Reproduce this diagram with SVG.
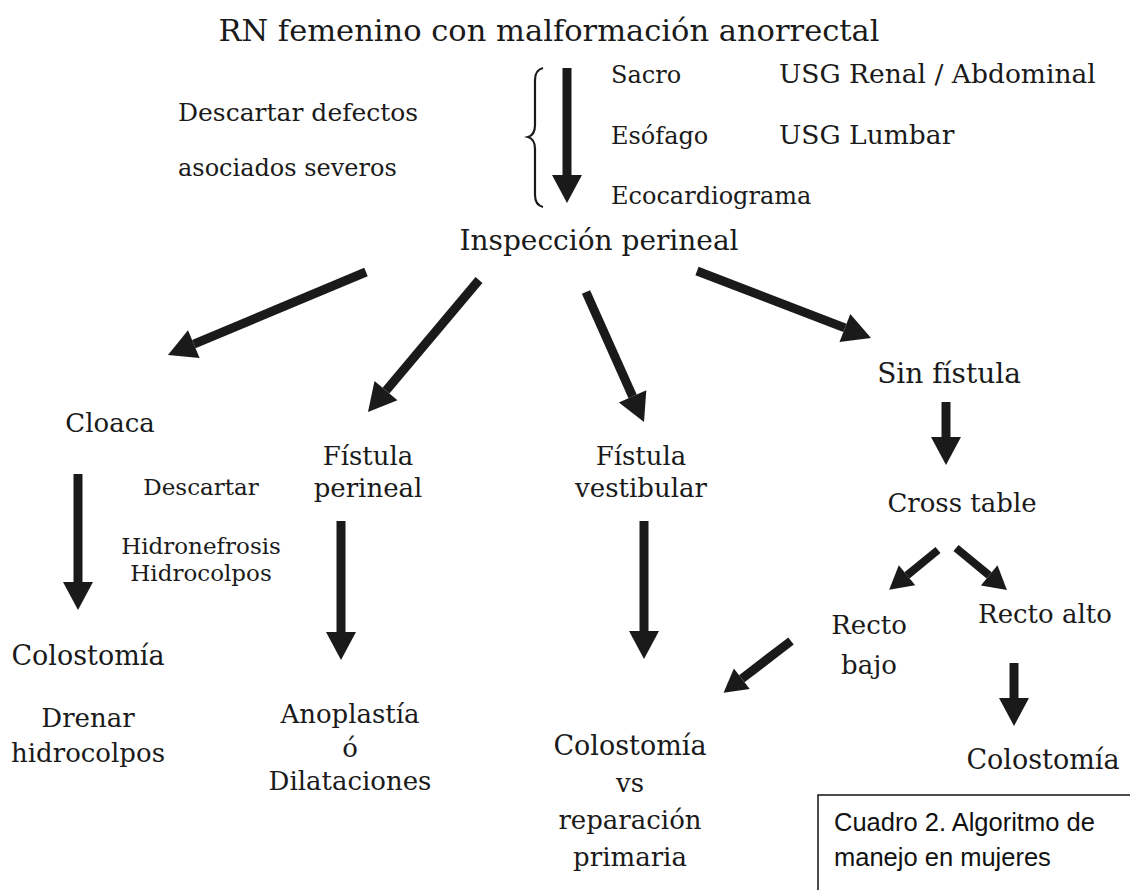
<svg xmlns="http://www.w3.org/2000/svg" width="1130" height="890" viewBox="0 0 1130 890">
<style>
.t{font-family:"DejaVu Serif","Liberation Serif",serif;fill:#1a1a1a;font-size:26px}
.m{text-anchor:middle}
.s{font-size:23px}
.l{font-size:24px}
.r{font-size:26.5px}
.b{font-size:28px}
.c{font-size:27px}
.a{stroke:#1a1a1a;stroke-width:9;fill:none}
.as{stroke:#1a1a1a;stroke-width:8;fill:none}
.cap{font-family:"Liberation Sans",Arial,sans-serif;font-size:25.5px;fill:#111}
</style>
<defs>
<marker id="hb" markerUnits="userSpaceOnUse" markerWidth="30" markerHeight="32" refX="0" refY="15" orient="auto" viewBox="0 0 30 30" overflow="visible">
<path d="M0,0 L28,15 L0,30 z" fill="#1a1a1a"/>
</marker>
<marker id="hs" markerUnits="userSpaceOnUse" markerWidth="26" markerHeight="26" refX="0" refY="13" orient="auto" viewBox="0 0 26 26" overflow="visible">
<path d="M0,0 L23,13 L0,26 z" fill="#1a1a1a"/>
</marker>
</defs>
<rect width="1130" height="890" fill="#fff"/>
<g id="connectors">
<path class="a" d="M567,68 L567,175" marker-end="url(#hb)"/>
<path d="M543,68 Q535,70 535,80 L535,125 Q535,135 528,137 Q535,139 535,149 L535,195 Q535,205 543,207" stroke="#1a1a1a" stroke-width="2.2" fill="none"/>
<path class="a" d="M366,272 L193.8,344.2" marker-end="url(#hb)"/>
<path class="a" d="M479,280 L386,390.6" marker-end="url(#hb)"/>
<path class="a" d="M586,292 L632.6,396.4" marker-end="url(#hb)"/>
<path class="a" d="M697,271 L844.9,327.9" marker-end="url(#hb)"/>
<path class="a" d="M946,402 L946,437" marker-end="url(#hb)"/>
<path class="as" d="M938,550 L907,575.3" marker-end="url(#hs)"/>
<path class="as" d="M956,548 L989.2,575.4" marker-end="url(#hs)"/>
<path class="a" d="M78,474 L78,582" marker-end="url(#hb)"/>
<path class="a" d="M341,521 L341,632" marker-end="url(#hb)"/>
<path class="a" d="M644,521 L644,631" marker-end="url(#hb)"/>
<path class="a" d="M791,641 L741.8,678.8" marker-end="url(#hs)"/>
<path class="a" d="M1014,663 L1014,698" marker-end="url(#hb)"/>
</g>
<g id="title"><text class="t m" x="549" y="41" style="font-size:30.5px">RN femenino con malformación anorrectal</text></g>
<g id="descartar-defectos">
<text class="t" x="178" y="121" style="font-size:25px">Descartar defectos</text>
<text class="t" x="178" y="176" style="font-size:24px">asociados severos</text>
</g>
<g id="estudios">
<text class="t l" x="611" y="83">Sacro</text>
<text class="t l" x="611" y="144">Esófago</text>
<text class="t l" x="611" y="204">Ecocardiograma</text>
<text class="t r" x="779" y="83">USG Renal / Abdominal</text>
<text class="t r" x="779" y="144">USG Lumbar</text>
</g>
<g id="inspeccion"><text class="t m b" x="599" y="250">Inspección perineal</text></g>
<g id="cloaca"><text class="t m" x="110" y="432">Cloaca</text></g>
<g id="descartar-hidro">
<text class="t s m" x="201" y="495">Descartar</text>
<text class="t s m" x="201" y="554">Hidronefrosis</text>
<text class="t s m" x="201" y="581">Hidrocolpos</text>
</g>
<g id="fistula-perineal">
<text class="t m" x="368" y="465">Fístula</text>
<text class="t m" x="368" y="497">perineal</text>
</g>
<g id="fistula-vestibular">
<text class="t m" x="641" y="465">Fístula</text>
<text class="t m" x="641" y="497">vestibular</text>
</g>
<g id="sin-fistula"><text class="t m b" x="949" y="383">Sin fístula</text></g>
<g id="cross-table"><text class="t m" x="962" y="512">Cross table</text></g>
<g id="recto-bajo">
<text class="t m" x="869" y="634">Recto</text>
<text class="t m" x="869" y="674">bajo</text>
</g>
<g id="recto-alto"><text class="t m" x="1045" y="623">Recto alto</text></g>
<g id="colostomia-cloaca">
<text class="t m c" x="88" y="665">Colostomía</text>
<text class="t m" x="88" y="727">Drenar</text>
<text class="t m" x="88" y="762">hidrocolpos</text>
</g>
<g id="anoplastia">
<text class="t m" x="350" y="723">Anoplastía</text>
<text class="t m" x="350" y="757">ó</text>
<text class="t m" x="350" y="790">Dilataciones</text>
</g>
<g id="colostomia-vs">
<text class="t m c" x="630" y="755">Colostomía</text>
<text class="t m" x="630" y="792">vs</text>
<text class="t m" x="630" y="829">reparación</text>
<text class="t m" x="630" y="866">primaria</text>
</g>
<g id="colostomia-alto"><text class="t m c" x="1043" y="769">Colostomía</text></g>
<g id="cuadro">
<rect x="818" y="795" width="330" height="110" fill="#fff" stroke="#111" stroke-width="1.5"/>
<text class="cap" x="834" y="831">Cuadro 2. Algoritmo de</text>
<text class="cap" x="834" y="866">manejo en mujeres</text>
</g>
</svg>
